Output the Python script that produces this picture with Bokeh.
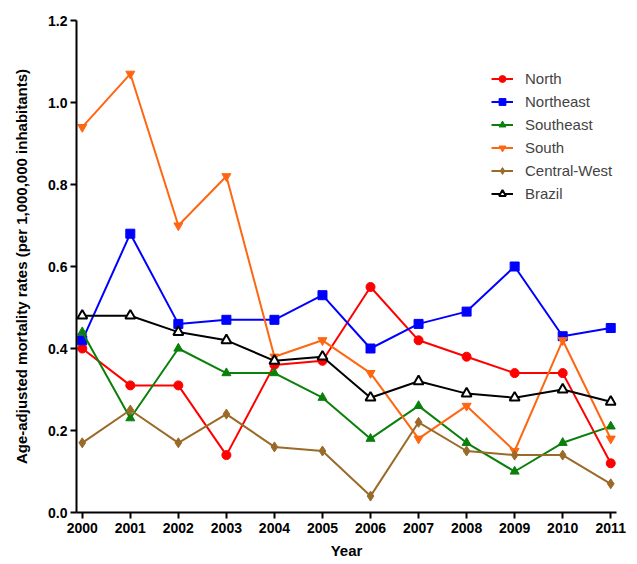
from bokeh.plotting import figure
from bokeh.models import Range1d, FixedTicker, NumeralTickFormatter, Legend, LegendItem
from bokeh.embed import file_html
from bokeh.resources import INLINE

years = [2000, 2001, 2002, 2003, 2004, 2005, 2006, 2007, 2008, 2009, 2010, 2011]
north = [0.40, 0.31, 0.31, 0.14, 0.36, 0.37, 0.55, 0.42, 0.38, 0.34, 0.34, 0.12]
northeast = [0.42, 0.68, 0.46, 0.47, 0.47, 0.53, 0.40, 0.46, 0.49, 0.60, 0.43, 0.45]
southeast = [0.44, 0.23, 0.40, 0.34, 0.34, 0.28, 0.18, 0.26, 0.17, 0.10, 0.17, 0.21]
south = [0.94, 1.07, 0.70, 0.82, 0.38, 0.42, 0.34, 0.18, 0.26, 0.15, 0.42, 0.18]
central_west = [0.17, 0.25, 0.17, 0.24, 0.16, 0.15, 0.04, 0.22, 0.15, 0.14, 0.14, 0.07]
brazil = [0.48, 0.48, 0.44, 0.42, 0.37, 0.38, 0.28, 0.32, 0.29, 0.28, 0.30, 0.27]
y_ticks = [0.0, 0.2, 0.4, 0.6, 0.8, 1.0, 1.2]

series = [
    ("North", north, "#ff0000", "circle", "#ff0000", 9),
    ("Northeast", northeast, "#0000ff", "square", "#0000ff", 9),
    ("Southeast", southeast, "#0a800a", "triangle", "#0a800a", 9),
    ("South", south, "#ff6611", "inverted_triangle", "#ff6611", 9),
    ("Central-West", central_west, "#9a6a28", "diamond", "#9a6a28", 10),
    ("Brazil", brazil, "#000000", "triangle", "#ffffff", 10),
]

font = "Liberation Sans"

W, H = 630, 562
p = figure(width=W, height=H, output_backend="svg", toolbar_location=None,
           x_range=Range1d(1999.88, 2011.12), y_range=Range1d(0, 1.2),
           min_border_left=76, min_border_right=14, min_border_top=20, min_border_bottom=50)
p.outline_line_color = None
p.grid.visible = False
p.background_fill_color = "white"

items = []
for name, vals, col, marker, fill, size in series:
    l = p.line(years, vals, line_color=col, line_width=2)
    s = p.scatter(years, vals, marker=marker, size=size, line_color=col,
                  fill_color=fill, line_width=2 if fill == "#ffffff" else 1)
    items.append(LegendItem(label=name, renderers=[l, s]))

legend = Legend(items=items, location=(415, 310), border_line_color=None,
                background_fill_alpha=0, label_text_font=font,
                label_text_font_size="15px", glyph_width=22, glyph_height=17,
                spacing=6, label_standoff=12, padding=0, margin=0)
p.add_layout(legend, "center")

p.xaxis.ticker = FixedTicker(ticks=years)
p.yaxis.ticker = FixedTicker(ticks=y_ticks)
p.yaxis.formatter = NumeralTickFormatter(format="0.0")
for ax in (p.xaxis[0], p.yaxis[0]):
    ax.axis_line_width = 2
    ax.major_tick_line_width = 2
    ax.major_tick_out = 6
    ax.major_tick_in = 0
    ax.minor_tick_line_color = None
    ax.major_label_text_font = font
    ax.major_label_text_font_style = "bold"
    ax.major_label_text_font_size = "14px"
    ax.major_label_text_color = "black"
    ax.axis_label_text_font = font
    ax.axis_label_text_font_style = "bold"
    ax.axis_label_text_font_size = "15px"
    ax.axis_label_text_color = "black"
p.xaxis.axis_label = "Year"
p.yaxis.axis_label = "Age-adjusted mortality rates (per 1,000,000 inhabitants)"
p.xaxis.axis_label_standoff = 6
p.yaxis.axis_label_standoff = 15
p.xaxis.major_label_standoff = 4
p.yaxis.major_label_standoff = 3

open("out.html", "w").write(file_html(p, INLINE))
